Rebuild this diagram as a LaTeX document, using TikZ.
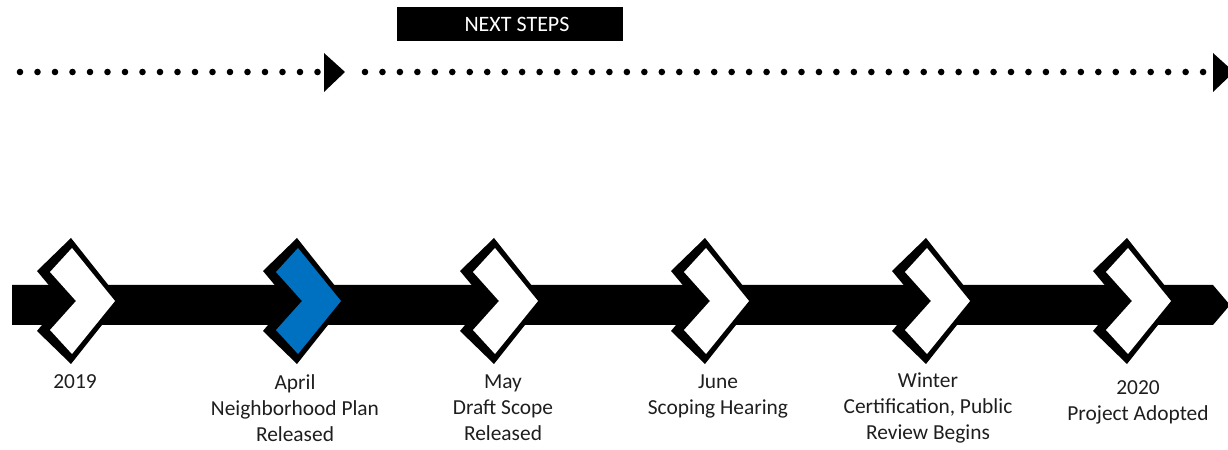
\documentclass[tikz,border=0pt]{standalone}
\usepackage{fontspec}
\setmainfont{Carlito}
\usepackage{tikz}
\usetikzlibrary{calc}
\definecolor{stepBlue}{RGB}{0, 112, 192}
\definecolor{darkText}{RGB}{30, 30, 30}

\tikzset{
    pics/milestone/.style={code={
        \fill[black] (0,63) -- (50,0) -- (0,-63) -- (-34,-30) -- (-9,0) -- (-34,30) -- cycle;
        \fill[#1] (1,53) -- (44,0) -- (1,-53) -- (-21,-29) -- (5,0) -- (-21,29) -- cycle;
    }},
    stamp/.style={align=center,anchor=north,inner sep=0pt,text=darkText,
                  font=\fontsize{10.7}{13}\selectfont},
}

\begin{document}
\begin{tikzpicture}[x=0.5pt,y=0.5pt]
        \useasboundingbox (0,0) rectangle (1228,450);

        % next steps header
        \node[fill=black,text=white,minimum width=113pt,minimum height=17pt,inner sep=0pt,
              font=\fontsize{11}{12}\selectfont] (next) at (510,426) {\hspace{7pt}NEXT STEPS};

        % dotted arrows
        \foreach \i in {0,...,17}
            \fill (20+17.5*\i,378) circle (3.3);
        \fill (324,397) -- (345,378) -- (324,358) -- cycle;
        \foreach \i in {0,...,48}
            \fill (365+17.46*\i,378) circle (3.3);
        \fill (1213,397) -- (1234,378) -- (1213,358) -- cycle;

        % timeline bar
        \coordinate (barL) at (12,145);
        \coordinate (barR) at (1230,145);
        \fill ($(barL)+(0,20)$) -- (1213,165) -- (barR) -- (1213,125) -- ($(barL)+(0,-20)$) -- cycle;

        % milestones
        \coordinate (m1) at (71,149);
        \coordinate (m2) at (297,149);
        \coordinate (m3) at (494,149);
        \coordinate (m4) at (705,149);
        \coordinate (m5) at (926,149);
        \coordinate (m6) at (1127,149);
        \pic at (m1) {milestone=white};
        \pic at (m2) {milestone=stepBlue};
        \pic at (m3) {milestone=white};
        \pic at (m4) {milestone=white};
        \pic at (m5) {milestone=white};
        \pic at (m6) {milestone=white};

        \node[stamp] (l1) at (75,76) {2019};
        \node[stamp] (l2) at (295,76) {April\\Neighborhood Plan\\Released};
        \node[stamp] (l3) at (503,76) {May\\Draft Scope\\Released};
        \node[stamp] (l4) at (718,76) {June\\Scoping Hearing};
        \node[stamp] (l5) at (928,78) {Winter\\Certification, Public\\Review Begins};
        \node[stamp] (l6) at (1138,70) {2020\\Project Adopted};
    \end{tikzpicture}
\end{document}
